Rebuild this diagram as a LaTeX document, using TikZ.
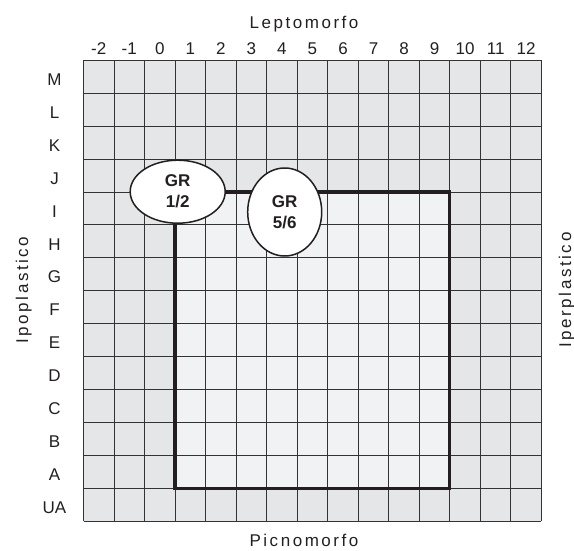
\documentclass[tikz,border=0pt]{standalone}
\usepackage{fontspec}
\setmainfont{Liberation Sans}
\usetikzlibrary{shapes.geometric}
\definecolor{cellout}{HTML}{E5E6E8}
\definecolor{cellin}{HTML}{F1F2F4}
\definecolor{gridink}{HTML}{333333}
\definecolor{ink}{HTML}{231F20}
\begin{document}
\begin{tikzpicture}[x=1pt,y=-1pt,
  gridline/.style={draw=gridink,line width=1pt},
  frameline/.style={draw=ink,line width=3.2pt},
  lab/.style={font=\fontsize{17}{17}\selectfont,text=ink,inner sep=0pt,text height=12.2pt,text depth=0pt},
  axis/.style={font=\fontsize{17}{17}\selectfont\addfontfeature{LetterSpace=15},text=ink,inner sep=0pt,text height=12.2pt,text depth=0pt},
  grbubble/.style={ellipse,draw=ink,line width=1.5pt,fill=white,inner sep=0pt,align=center,
    font=\fontsize{17}{21}\selectfont\bfseries,text=ink}]
\useasboundingbox (0,0) rectangle (574,551);
\def\gx{83.5}\def\gy{60.3}\def\cw{30.53}\def\rh{32.93}
% grid corners
\coordinate (g0) at (\gx,\gy);
\coordinate (g1) at ({\gx+15*\cw},{\gy+14*\rh});
% inner field: columns 1..9, rows A..I
\coordinate (f0) at ({\gx+3*\cw},{\gy+4*\rh});
\coordinate (f1) at ({\gx+12*\cw},{\gy+13*\rh});
\fill[cellout] (g0) rectangle (g1);
\fill[cellin] (f0) rectangle (f1);
% grid lines
\foreach \i in {0,...,15} \draw[gridline] ({\gx+\i*\cw},\gy) -- ({\gx+\i*\cw},{\gy+14*\rh});
\foreach \j in {0,...,14} \draw[gridline] (\gx,{\gy+\j*\rh}) -- ({\gx+15*\cw},{\gy+\j*\rh});
% column numbers
\foreach \v [count=\i from 0] in {-2,-1,0,1,2,3,4,5,6,7,8,9,10,11,12}
  \node[lab,anchor=base] (c\i) at ({\gx+(\i+0.5)*\cw},54.3) {\v};
% row letters
\foreach \r [count=\j from 0] in {M,L,K,J,I,H,G,F,E,D,C,B,A,UA}
  \node[lab] (r\j) at (54.5,{\gy+(\j+0.5)*\rh+2.5}) {\r};
% axis titles
\node[axis] (top) at (304,22.5) {Leptomorfo};
\node[axis] (bottom) at (304,540.5) {Picnomorfo};
\node[axis,rotate=90] (left) at (22,290) {Ipoplastico};
\node[axis,rotate=90] (right) at (565,290) {Iperplastico};
% frame of the inner field
\draw[frameline] (f0) rectangle (f1);
% group bubbles
\node[grbubble,minimum width=95pt,minimum height=63pt] (gr12) at (177.7,191.7) {GR\\1/2};
\node[grbubble,minimum width=74pt,minimum height=88pt] (gr56) at (284.7,212) {GR\\5/6};
\end{tikzpicture}
\end{document}
